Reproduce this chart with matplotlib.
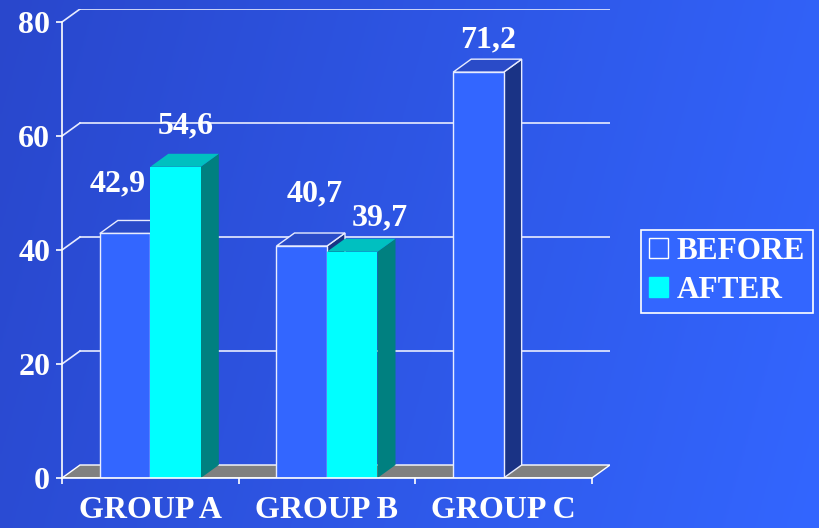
import matplotlib.pyplot as plt
import numpy as np
from matplotlib.patches import Polygon, Patch

# Valores por grupo (ANTES / DEPOIS)
groups = ['GROUP A', 'GROUP B', 'GROUP C']
before = [42.9, 40.7, 71.2]
after = [54.6, 39.7, None]
before_labels = ['42,9', '40,7', '71,2']
after_labels = ['54,6', '39,7', None]
series_names = ['BEFORE', 'AFTER']

# deslocamento dos rótulos de valor (pontos), ajustado a mão
before_offsets = [(-5, 30), (9, 32), (7, 18)]
after_offsets = [(7, 24), (20, 19), None]

W, H = 819, 528
fig = plt.figure(figsize=(W / 100, H / 100), dpi=100)

# fundo em degradê azul
bg = fig.add_axes([0, 0, 1, 1])
xx, yy = np.meshgrid(np.linspace(0, 1, 256), np.linspace(0, 1, 256))
t = np.clip(0.85 * xx + 0.15 * yy, 0, 1)
c0 = np.array([0x29, 0x47, 0xCC]) / 255
c1 = np.array([0x33, 0x66, 0xFF]) / 255
img = c0 + (c1 - c0) * t[..., None]
bg.imshow(img, extent=[0, 1, 0, 1], aspect='auto', origin='upper')
bg.axis('off')

# profundidade 3D em pixels
DX, DY = 18, 13
x0, x1 = 62, 592
y0, y80 = 478, 22
ppx = (x1 - x0) / 3
ppy = (y0 - y80) / 80
ddx = DX / ppx
ddy = DY / ppy

ax = fig.add_axes([x0 / W, (H - y0) / H, (x1 + DX - x0) / W, (y0 - y80 + DY) / H])
ax.set_xlim(0, 3 + ddx)
ax.set_ylim(0, 80 + ddy)
ax.patch.set_visible(False)

FONT = dict(family='Liberation Serif', weight='bold', size=23)

# grade na parede do fundo
for v in range(20, 81, 20):
    ax.plot([0, ddx], [v, v + ddy], color='#E8ECFF', lw=1.2, zorder=1)
    ax.plot([ddx, 3 + ddx], [v + ddy, v + ddy], color='#E8ECFF', lw=1.2, zorder=1)

# piso cinza
ax.add_patch(Polygon([(0, 0), (3, 0), (3 + ddx, ddy), (ddx, ddy)], closed=True,
                     facecolor='#808080', edgecolor='white', lw=1.0, zorder=2))


def bar3d(xl, w, v, front, top, side, edge, lw):
    ax.add_patch(Polygon([(xl + w, 0), (xl + w + ddx, ddy), (xl + w + ddx, v + ddy), (xl + w, v)],
                         facecolor=side, edgecolor=edge, lw=lw, zorder=3))
    ax.add_patch(Polygon([(xl, v), (xl + w, v), (xl + w + ddx, v + ddy), (xl + ddx, v + ddy)],
                         facecolor=top, edgecolor=edge, lw=lw, zorder=3))
    ax.add_patch(Polygon([(xl, 0), (xl + w, 0), (xl + w, v), (xl, v)],
                         facecolor=front, edgecolor=edge, lw=lw, zorder=3))


bw = 50.5 / ppx
for i in range(len(groups)):
    c = i + 0.5
    bar3d(c - bw, bw, before[i], '#3366FF', '#2A4BC8', '#1A3385', '#E8ECFF', 1.0)
    dx, dy = before_offsets[i]
    ax.annotate(before_labels[i], (c - bw / 2, before[i]), xytext=(dx, dy),
                textcoords='offset points', ha='center', va='baseline',
                color='white', zorder=5, **FONT)
    if after[i] is not None:
        bar3d(c, bw, after[i], '#00FFFF', '#00C0C0', '#008080', 'none', 0)
        dx, dy = after_offsets[i]
        ax.annotate(after_labels[i], (c + bw / 2, after[i]), xytext=(dx, dy),
                    textcoords='offset points', ha='center', va='baseline',
                    color='white', zorder=5, **FONT)

# eixos
for s in ['top', 'right']:
    ax.spines[s].set_visible(False)
ax.spines['left'].set_bounds(0, 80)
ax.spines['bottom'].set_bounds(0, 3)
for s in ['left', 'bottom']:
    ax.spines[s].set_color('white')
    ax.spines[s].set_linewidth(1.2)
    ax.spines[s].set_zorder(4)

ax.set_yticks(range(0, 81, 20))
ax.set_yticklabels([str(v) for v in range(0, 81, 20)], fontdict=FONT, color='white')
ax.set_xticks([0, 1, 2, 3])
ax.set_xticklabels([])
ax.set_xticks([0.5, 1.5, 2.5], minor=True)
ax.set_xticklabels(groups, minor=True, fontdict=FONT, color='white')
ax.tick_params(axis='y', colors='white', length=4.5, width=1.2, pad=4)
ax.tick_params(axis='x', which='major', colors='white', length=4.5, width=1.2)
ax.tick_params(axis='x', which='minor', length=0, pad=13, colors='white')

handles = [Patch(facecolor='#3366FF', edgecolor='white', lw=1.0),
           Patch(facecolor='#00FFFF', edgecolor='#00FFFF', lw=1.0)]
leg = fig.legend(handles, series_names, loc='center left',
                 bbox_to_anchor=(641 / W, 1 - 271 / H), prop=dict(family='Liberation Serif', weight='bold', size=22.5),
                 labelcolor='white', frameon=True, fancybox=False, framealpha=1,
                 facecolor='#3366FF', edgecolor='white', handlelength=0.6, handleheight=0.6,
                 handletextpad=0.3, labelspacing=0.3, borderpad=0.25, borderaxespad=0)
leg.get_frame().set_linewidth(1.2)

fig.savefig('out.png', dpi=100)
